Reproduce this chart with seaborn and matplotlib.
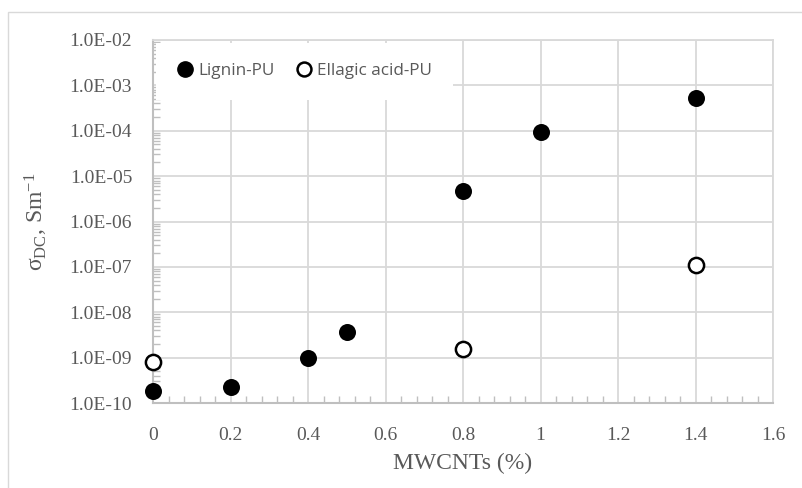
import numpy as np
import pandas as pd
import matplotlib
matplotlib.use("Agg")
import matplotlib.pyplot as plt
import seaborn as sns
from matplotlib.ticker import FixedLocator, LogLocator, MultipleLocator, FuncFormatter, NullFormatter
from matplotlib.lines import Line2D
from matplotlib.patches import Rectangle

# Data
lignin_x = [0.0, 0.2, 0.4, 0.5, 0.8, 1.0, 1.4]
lignin_y = [1.8e-10, 2.25e-10, 9.8e-10, 3.6e-9, 4.7e-6, 9.6e-5, 5.4e-4]
ellagic_x = [0.0, 0.8, 1.4]
ellagic_y = [7.9e-10, 1.57e-9, 1.1e-7]
series_names = ["Lignin-PU", "Ellagic acid-PU"]
x_ticks = [0, 0.2, 0.4, 0.6, 0.8, 1, 1.2, 1.4, 1.6]
y_ticks = [1e-10, 1e-9, 1e-8, 1e-7, 1e-6, 1e-5, 1e-4, 1e-3, 1e-2]

df = pd.DataFrame({
    "x": lignin_x + ellagic_x,
    "y": lignin_y + ellagic_y,
    "series": [series_names[0]] * len(lignin_x) + [series_names[1]] * len(ellagic_x),
})

sns.set_theme(style="white")
plt.rcParams["font.family"] = ["DejaVu Sans"]
plt.rcParams["mathtext.fontset"] = "custom"
plt.rcParams["mathtext.rm"] = "Liberation Serif"
plt.rcParams["mathtext.it"] = "Liberation Serif"
plt.rcParams["mathtext.bf"] = "Liberation Serif"

W, H = 802, 488
fig = plt.figure(figsize=(W / 100, H / 100), dpi=100)
ax = fig.add_axes([153 / W, 1 - 403 / H, (773 - 153) / W, (403 - 40) / H])

grid_c = "#d9d9d9"
axis_c = "#bfbfbf"
text_c = "#595959"

# outer frame
fig.patches.append(Rectangle((8 / W, -0.1), 1.2, 1 - 12 / H + 0.1, transform=fig.transFigure,
                             fill=False, edgecolor="#d9d9d9", linewidth=1.0, zorder=0))

ax.set_yscale("log")
ax.set_xlim(0, 1.6)
ax.set_ylim(1e-10, 1e-2)

sub_l = df[df.series == series_names[0]]
sub_e = df[df.series == series_names[1]]
sns.scatterplot(data=sub_l, x="x", y="y", ax=ax, marker="o", s=150, color="black",
                edgecolor="black", linewidth=0, zorder=5, clip_on=False, legend=False)
sns.scatterplot(data=sub_e, x="x", y="y", ax=ax, marker="o", s=120, facecolor="white",
                edgecolor="black", linewidth=1.8, zorder=5, clip_on=False, legend=False)

# grid
ax.xaxis.set_major_locator(FixedLocator(x_ticks))
ax.yaxis.set_major_locator(FixedLocator(y_ticks))
ax.xaxis.set_minor_locator(MultipleLocator(0.04))
ax.yaxis.set_minor_locator(LogLocator(base=10, subs=np.arange(2, 10)))
ax.yaxis.set_minor_formatter(NullFormatter())
ax.grid(True, which="major", color=grid_c, linewidth=1.3, zorder=0)
ax.set_axisbelow(True)

for side in ["top", "right"]:
    ax.spines[side].set_color(grid_c)
    ax.spines[side].set_linewidth(1.3)
for side in ["left", "bottom"]:
    ax.spines[side].set_color(axis_c)
    ax.spines[side].set_linewidth(1.5)

ax.tick_params(axis="both", which="major", length=0)
ax.tick_params(axis="both", which="minor", direction="in", length=5, width=1, color=axis_c)
ax.tick_params(axis="x", which="minor", bottom=True)
ax.tick_params(axis="y", which="minor", left=True)

def xfmt(v, pos):
    s = f"{v:.1f}"
    if s.endswith(".0"):
        s = s[:-2]
    return s

def yfmt(v, pos):
    e = int(round(np.log10(v)))
    return f"1.0E-{abs(e):02d}"

ax.xaxis.set_major_formatter(FuncFormatter(xfmt))
ax.yaxis.set_major_formatter(FuncFormatter(yfmt))
for lab in ax.get_xticklabels() + ax.get_yticklabels():
    lab.set_fontfamily("Liberation Serif")
    lab.set_fontsize(14)
    lab.set_color(text_c)
ax.tick_params(axis="x", which="major", pad=17)
ax.tick_params(axis="y", which="major", pad=15)

ax.set_xlabel("MWCNTs (%)", fontfamily="Liberation Serif", fontsize=17, color=text_c, labelpad=7)
ax.set_ylabel(r"$\mathrm{\sigma_{DC}}$, Sm$^{-1}$", fontfamily="Liberation Serif", fontsize=17,
              color=text_c, labelpad=14)

handles = [
    Line2D([], [], linestyle="none", marker="o", markersize=11, markerfacecolor="black",
           markeredgecolor="black"),
    Line2D([], [], linestyle="none", marker="o", markersize=10, markerfacecolor="white",
           markeredgecolor="black", markeredgewidth=1.8),
]
leg = ax.legend(handles, series_names, loc="upper left", bbox_to_anchor=(0.0, 1.0), ncol=2,
                frameon=True, fancybox=False, framealpha=1, edgecolor="white",
                handletextpad=0.3, columnspacing=1.2, handlelength=1.0,
                borderpad=1.2, borderaxespad=0.15,
                prop={"family": "Open Sans", "size": 12.3})
leg.get_frame().set_linewidth(0)
for t in leg.get_texts():
    t.set_color(text_c)
leg.set_zorder(4)

fig.savefig("out.png", dpi=100, facecolor="white")
